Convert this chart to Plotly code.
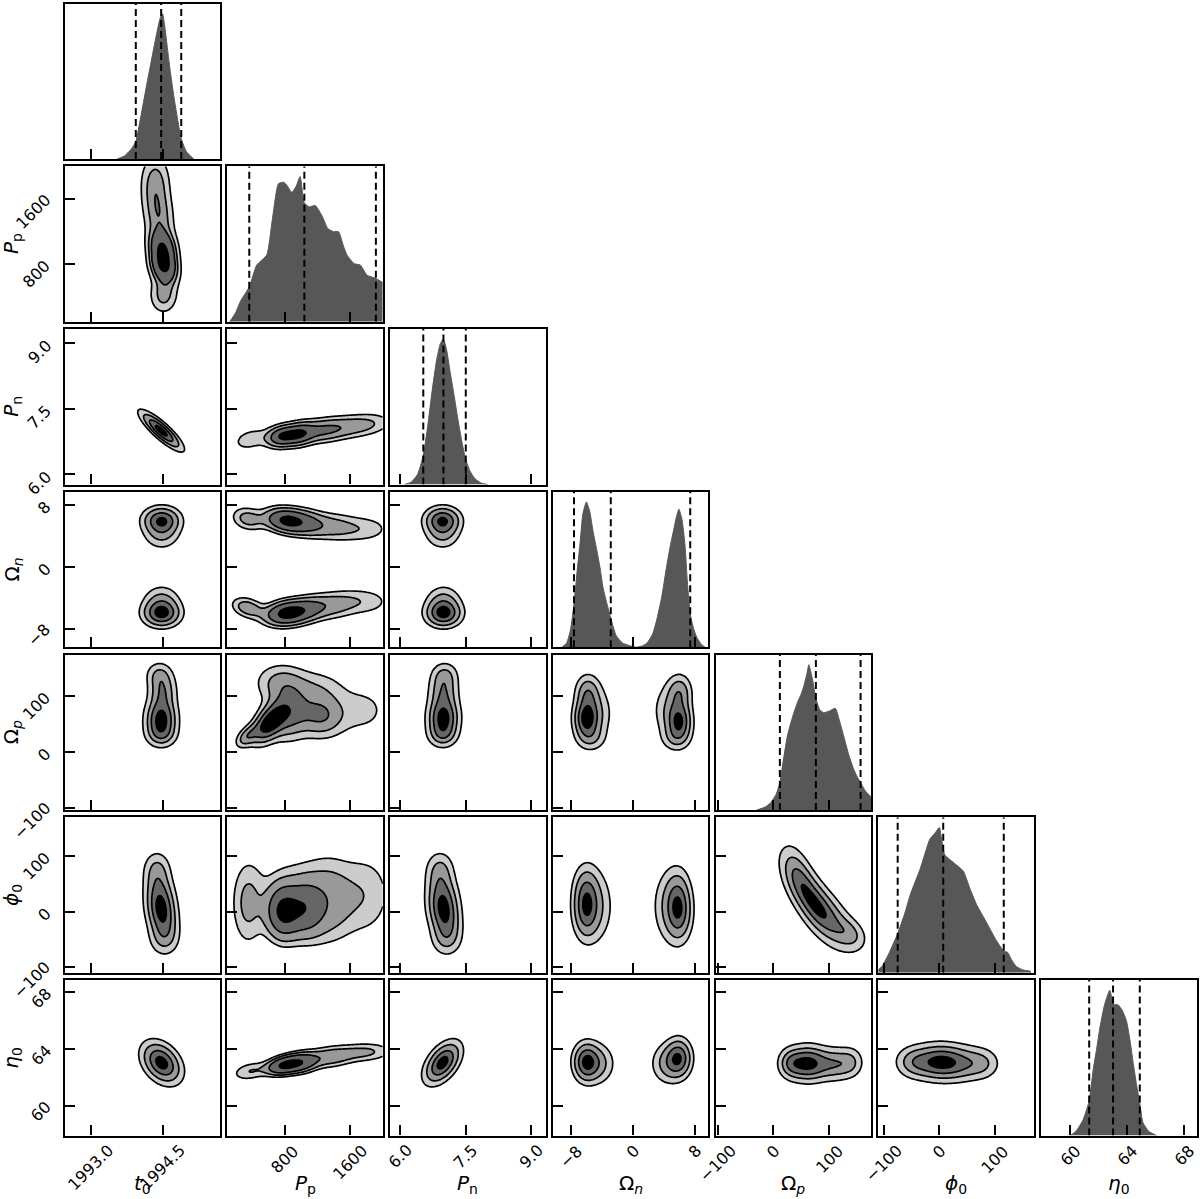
import numpy as np
import plotly.graph_objects as go

# ---------------- parameters / axes ----------------
PARAM_TITLES = ["<i>t</i><sub>0</sub>", "<i>P</i><sub>p</sub>", "<i>P</i><sub>n</sub>",
                "Ω<sub><i>n</i></sub>", "Ω<sub><i>p</i></sub>", "<i>ϕ</i><sub>0</sub>",
                "<i>η</i><sub>0</sub>"]
RANGES = [[1992.45, 1995.7], [100, 2000], [5.77, 9.32], [-10.4, 9.7],
          [-104, 175], [-110, 170], [57.93, 68.87]]
TICKS = [[1993.0, 1994.5], [800, 1600], [6.0, 7.5, 9.0], [-8, 0, 8],
         [-100, 0, 100], [-100, 0, 100], [60, 64, 68]]
TICK_TEXT = [["1993.0", "1994.5"], ["800", "1600"], ["6.0", "7.5", "9.0"],
             ["−8", "0", "8"], ["−100", "0", "100"], ["−100", "0", "100"],
             ["60", "64", "68"]]
QUANTILES = [[1993.94, 1994.47, 1994.89], [369, 1042, 1916], [6.53, 6.99, 7.50],
             [-7.65, -2.9, 7.37], [11.5, 76.1, 156.3], [-75, 7, 116],
             [61.32, 63.0, 64.88]]

# ---------------- 1D marginals (peak = 1) ----------------
MARG_X_T0 = [1993.55, 1993.7, 1993.85, 1993.94, 1994.05, 1994.15, 1994.25, 1994.35,
             1994.45, 1994.50, 1994.55, 1994.65, 1994.75, 1994.89, 1995.0, 1995.15]
MARG_H_T0 = [0, 0.02, 0.07, 0.12, 0.3, 0.48, 0.65, 0.82, 0.97, 1.0, 0.9, 0.63, 0.4,
             0.14, 0.05, 0]
MARG_X_PP = [130, 200, 260, 369, 460, 583, 650, 725, 790, 828, 889, 940, 991, 1040,
             1100, 1175, 1257, 1330, 1400, 1460, 1520, 1563, 1650, 1726, 1808, 1910, 2000]
MARG_H_PP = [0, 0.06, 0.14, 0.24, 0.39, 0.46, 0.70, 0.95, 0.96, 0.94, 0.89, 0.93, 1.0,
             0.82, 0.79, 0.80, 0.73, 0.64, 0.62, 0.62, 0.52, 0.46, 0.40, 0.39, 0.32,
             0.30, 0.27]
MARG_X_PN = [6.1, 6.25, 6.4, 6.53, 6.63, 6.73, 6.83, 6.92, 6.99, 7.06, 7.14, 7.24,
             7.33, 7.42, 7.5, 7.6, 7.71, 7.85, 8.0]
MARG_H_PN = [0, 0.015, 0.07, 0.2, 0.4, 0.64, 0.85, 0.97, 1.0, 0.93, 0.78, 0.6, 0.43,
             0.28, 0.17, 0.09, 0.04, 0.01, 0]
MARG_X_ON = [-9.2, -8.6, -8.1, -7.65, -7.2, -6.9, -6.5, -6.05, -5.6, -5.2, -4.75, -4.3,
             -3.9, -3.4, -2.9, -2.2, -1.4, -0.4, 0.4, 1.2, 1.8, 2.5, 3.0, 3.7, 4.3,
             4.8, 5.2, 5.6, 5.91, 6.3, 6.7, 7.0, 7.37, 7.8, 8.2, 8.8, 9.3]
MARG_H_ON = [0, 0.03, 0.12, 0.3, 0.55, 0.7, 0.92, 1.0, 0.93, 0.8, 0.68, 0.55, 0.41,
             0.3, 0.2, 0.08, 0.03, 0.01, 0, 0.01, 0.03, 0.09, 0.18, 0.35, 0.55, 0.70,
             0.80, 0.9, 0.95, 0.88, 0.70, 0.45, 0.23, 0.13, 0.07, 0.02, 0]
MARG_X_OP = [-30, -15, -5, 5, 11.5, 18, 25, 35, 43, 50, 55, 60, 63.5, 67, 70, 76, 83,
             90, 100, 111, 118, 126, 135, 144, 150, 156, 165, 175]
MARG_H_OP = [0, 0.02, 0.05, 0.11, 0.19, 0.35, 0.51, 0.65, 0.74, 0.80, 0.86, 0.94, 1.0,
             0.95, 0.9, 0.77, 0.69, 0.67, 0.68, 0.70, 0.62, 0.51, 0.38, 0.28, 0.23,
             0.19, 0.13, 0.09]
MARG_X_PHI = [-110, -103, -90, -75, -63, -52, -34, -17, -8, 0, 4, 10, 25, 43, 55, 67,
              80, 90, 103, 116, 123, 130, 138, 150, 165]
MARG_H_PHI = [0.02, 0.045, 0.14, 0.27, 0.40, 0.54, 0.72, 0.92, 0.96, 1.0, 0.92, 0.81,
              0.76, 0.70, 0.58, 0.47, 0.38, 0.31, 0.22, 0.15, 0.14, 0.09, 0.045, 0.02,
              0.01]
MARG_X_ETA = [60.0, 60.4, 60.9, 61.32, 61.6, 61.85, 62.07, 62.4, 62.77, 62.95, 63.1,
              63.35, 63.65, 63.94, 64.2, 64.4, 64.65, 64.88, 65.1, 65.5, 66.05]
MARG_H_ETA = [0, 0.03, 0.11, 0.24, 0.45, 0.60, 0.74, 0.9, 1.0, 0.93, 0.90, 0.90, 0.86,
              0.79, 0.65, 0.51, 0.35, 0.22, 0.09, 0.03, 0.0]
MARG_X = [MARG_X_T0, MARG_X_PP, MARG_X_PN, MARG_X_ON, MARG_X_OP, MARG_X_PHI, MARG_X_ETA]
MARG_H = [MARG_H_T0, MARG_H_PP, MARG_H_PN, MARG_H_ON, MARG_H_OP, MARG_H_PHI, MARG_H_ETA]

# ---------------- 2D posteriors: blobs (mx, my, sx, sy, rho, weight) ----------------
B_T0_PP = [(1994.53, 760, 0.19, 130, -0.2, 0.5), (1994.50, 1000, 0.19, 140, -0.2, 0.5),
           (1994.42, 1400, 0.22, 250, -0.2, 0.6),
           (1994.35, 1850, 0.21, 220, 0.0, 0.4), (1994.52, 420, 0.2, 150, 0.0, 0.3)]
B_T0_PN = [(1994.47, 7.0, 0.245, 0.245, -0.86, 1.0)]
B_T0_ON = [(1994.48, 6.1, 0.23, 1.0, 0, 0.6), (1994.48, 4.5, 0.23, 1.3, 0, 0.4),
           (1994.48, -6.1, 0.23, 1.0, 0, 0.65), (1994.48, -4.6, 0.23, 1.3, 0, 0.4)]
B_T0_OP = [(1994.47, 60, 0.21, 22, 0, 1.0), (1994.50, 110, 0.19, 22, 0, 0.55),
           (1994.47, 30, 0.21, 15, 0, 0.3), (1994.42, 140, 0.18, 15, 0, 0.2)]
B_T0_PHI = [(1994.48, -5, 0.2, 30, -0.25, 1.0), (1994.44, 40, 0.2, 30, -0.25, 0.6),
            (1994.40, 80, 0.18, 20, 0, 0.2), (1994.52, -50, 0.2, 20, 0, 0.25)]
B_T0_ETA = [(1994.48, 63.05, 0.24, 0.85, -0.35, 1.0)]
B_PP_PN = [(380, 6.80, 150, 0.18, 0.3, 0.15), (760, 6.87, 120, 0.16, 0.2, 0.35),
           (980, 6.92, 120, 0.17, 0.2, 0.33), (1250, 7.0, 180, 0.18, 0.2, 0.35),
           (1550, 7.08, 200, 0.18, 0.2, 0.25), (1850, 7.15, 200, 0.18, 0.2, 0.2)]
B_PP_ON = [(350, 6.2, 130, 1.0, -0.2, 0.1), (800, 6.0, 160, 1.0, -0.2, 0.3),
           (1050, 5.7, 170, 1.1, -0.2, 0.22), (1400, 5.2, 200, 1.2, -0.1, 0.16),
           (1800, 4.9, 220, 1.2, 0, 0.12),
           (350, -5.3, 130, 0.9, -0.3, 0.1), (800, -6.0, 160, 1.0, 0.2, 0.32),
           (1050, -5.6, 170, 1.1, 0.3, 0.23), (1400, -5.0, 200, 1.2, 0.2, 0.17),
           (1800, -4.5, 220, 1.2, 0, 0.12)]
B_PP_OP = [(340, 28, 90, 13, 0.5, 0.08), (600, 50, 130, 22, 0.5, 0.4),
           (850, 70, 170, 30, 0.1, 0.6), (1250, 65, 180, 25, 0, 0.45),
           (750, 125, 200, 22, 0, 0.3), (1200, 115, 220, 22, 0, 0.2),
           (1750, 75, 250, 32, 0, 0.3)]
B_PP_PHI = [(350, 15, 130, 50, 0, 0.2), (780, 0, 130, 30, 0, 0.4),
            (1050, 5, 150, 32, 0, 0.35), (1350, 20, 200, 48, 0, 0.35),
            (1800, 30, 220, 50, 0, 0.25), (900, 40, 300, 50, 0, 0.2)]
B_PP_ETA = [(380, 62.45, 150, 0.45, 0.3, 0.15), (780, 62.85, 130, 0.42, 0.3, 0.4),
            (1000, 63.05, 130, 0.45, 0.2, 0.35), (1350, 63.45, 200, 0.5, 0.2, 0.33),
            (1800, 63.8, 220, 0.45, 0.1, 0.25)]
B_PN_ON = [(6.97, 6.1, 0.24, 1.0, 0, 0.6), (6.97, 4.5, 0.24, 1.3, 0, 0.4),
           (6.99, -6.1, 0.24, 1.0, 0, 0.65), (6.99, -4.6, 0.24, 1.3, 0, 0.4)]
B_PN_OP = [(6.99, 62, 0.23, 22, 0, 1.0), (6.99, 110, 0.22, 22, 0, 0.55),
           (6.97, 30, 0.22, 15, 0, 0.3), (7.02, 140, 0.2, 15, 0, 0.2)]
B_PN_PHI = [(7.0, -5, 0.23, 30, -0.25, 1.0), (6.97, 40, 0.23, 30, -0.25, 0.6),
            (6.93, 80, 0.2, 20, 0, 0.2), (7.04, -50, 0.22, 20, 0, 0.25)]
B_PN_ETA = [(6.97, 63.05, 0.24, 0.85, 0.5, 1.0)]
B_ON_OP = [(-6.1, 60, 1.0, 22, 0, 0.6), (-5.9, 108, 1.0, 20, 0, 0.3),
           (-4.6, 70, 1.3, 30, 0, 0.35), (-5.5, 25, 1.2, 15, 0, 0.15),
           (6.0, 55, 1.0, 22, 0, 0.55), (6.0, 108, 1.0, 20, 0, 0.3),
           (4.5, 75, 1.3, 30, 0, 0.35), (5.5, 25, 1.2, 15, 0, 0.15)]
B_ON_PHI = [(-6.1, 0, 1.0, 30, 0, 0.6), (-6.1, 40, 1.0, 28, 0, 0.35),
            (-4.6, 10, 1.3, 40, 0, 0.4),
            (5.9, -5, 1.0, 30, 0, 0.55), (5.8, 30, 1.0, 30, 0, 0.35),
            (4.5, 10, 1.3, 40, 0, 0.4)]
B_ON_ETA = [(-6.1, 63.1, 1.0, 0.8, 0, 0.6), (-4.6, 63.0, 1.3, 0.85, 0, 0.4),
            (5.9, 63.4, 1.0, 0.8, 0, 0.55), (4.5, 63.0, 1.3, 0.85, 0, 0.4)]
B_OP_PHI = [(65, 25, 28, 42, -0.7, 1.0), (105, -15, 28, 35, -0.6, 0.6),
            (40, 75, 18, 32, -0.4, 0.25), (140, -40, 18, 18, -0.3, 0.15)]
B_OP_ETA = [(62, 63.0, 22, 0.8, 0, 1.0), (110, 62.95, 22, 0.75, 0, 0.55),
            (30, 63.0, 15, 0.7, 0, 0.3), (140, 63.1, 15, 0.7, 0, 0.2)]
B_PHI_ETA = [(-5, 63.1, 30, 0.8, 0, 1.0), (40, 63.0, 30, 0.8, 0, 0.6),
             (80, 63.0, 20, 0.7, 0, 0.2), (-50, 63.1, 20, 0.7, 0, 0.25)]

PAIRS = {(0, 1): B_T0_PP, (0, 2): B_T0_PN, (0, 3): B_T0_ON, (0, 4): B_T0_OP,
         (0, 5): B_T0_PHI, (0, 6): B_T0_ETA, (1, 2): B_PP_PN, (1, 3): B_PP_ON,
         (1, 4): B_PP_OP, (1, 5): B_PP_PHI, (1, 6): B_PP_ETA, (2, 3): B_PN_ON,
         (2, 4): B_PN_OP, (2, 5): B_PN_PHI, (2, 6): B_PN_ETA, (3, 4): B_ON_OP,
         (3, 5): B_ON_PHI, (3, 6): B_ON_ETA, (4, 5): B_OP_PHI, (4, 6): B_OP_ETA,
         (5, 6): B_PHI_ETA}

# ---------------- geometry / style ----------------
W, H = 1200, 1199
COL_LEFT0, ROW_TOP0, STEP, PANEL = 64.5, 3.5, 162.75, 155.5
FONT = "DejaVu Sans"
TICK_SIZE = 16
HIST_COLOR = "#575757"
DIAG_TOP = 1.07
CS = [[0, "#ffffff"], [0.125, "#ffffff"], [0.125, "#cccccc"], [0.375, "#cccccc"],
      [0.375, "#999999"], [0.625, "#999999"], [0.625, "#666666"], [0.875, "#666666"],
      [0.875, "#000000"], [1, "#000000"]]


def hpd_sigma(xg, yg, blobs):
    X, Y = np.meshgrid(xg, yg)
    p = np.zeros_like(X)
    for mx, my, sx, sy, rho, w in blobs:
        dx = (X - mx) / sx
        dy = (Y - my) / sy
        q = (dx * dx - 2 * rho * dx * dy + dy * dy) / (1 - rho * rho)
        p += w * np.exp(-0.5 * q) / (2 * np.pi * sx * sy * np.sqrt(1 - rho * rho))
    flat = p.ravel()
    order = np.argsort(flat)[::-1]
    cum = np.cumsum(flat[order])
    cum /= cum[-1]
    m = np.empty_like(cum)
    m[order] = cum
    m = np.clip(m, 0, 1 - 1e-12)
    s = np.sqrt(-2 * np.log1p(-m))
    return -np.minimum(s, 3.0).reshape(p.shape)


def panel_id(r, c):
    return r * (r + 1) // 2 + c + 1


fig = go.Figure()
layout = {}
for r in range(7):
    for c in range(r + 1):
        k = panel_id(r, c)
        xa, ya = f"x{k}", f"y{k}"
        left = COL_LEFT0 + STEP * c
        top = ROW_TOP0 + STEP * r
        xdom = [left / W, (left + PANEL) / W]
        ydom = [(H - top - PANEL) / H, (H - top) / H]
        common = dict(showline=True, mirror=True, linecolor="black", linewidth=2.3,
                      ticks="inside", ticklen=10, tickwidth=2, tickcolor="black",
                      showgrid=False, zeroline=False, automargin=False,
                      showticklabels=False)
        layout[f"xaxis{k}"] = dict(domain=xdom, anchor=ya, range=RANGES[c],
                                   tickvals=TICKS[c], **common)
        if r == c:
            ycfg = dict(common)
            ycfg.update(ticks="")
            layout[f"yaxis{k}"] = dict(domain=ydom, anchor=xa, range=[0, DIAG_TOP], **ycfg)
            fig.add_trace(go.Scatter(x=MARG_X[c], y=MARG_H[c], xaxis=xa, yaxis=ya,
                                     mode="lines", fill="tozeroy", fillcolor=HIST_COLOR,
                                     line=dict(color=HIST_COLOR, width=1, shape="spline",
                                               smoothing=0.5),
                                     hoverinfo="skip", showlegend=False))
            for qv in QUANTILES[c]:
                fig.add_trace(go.Scatter(x=[qv, qv], y=[0, DIAG_TOP], xaxis=xa, yaxis=ya,
                                         mode="lines",
                                         line=dict(color="black", width=2, dash="7px,4px"),
                                         hoverinfo="skip", showlegend=False))
        else:
            layout[f"yaxis{k}"] = dict(domain=ydom, anchor=xa, range=RANGES[r],
                                       tickvals=TICKS[r], **common)
            xg = np.linspace(RANGES[c][0], RANGES[c][1], 150)
            yg = np.linspace(RANGES[r][0], RANGES[r][1], 150)
            z = hpd_sigma(xg, yg, PAIRS[(c, r)])
            fig.add_trace(go.Contour(x=xg, y=yg, z=z, xaxis=xa, yaxis=ya,
                                     autocontour=False,
                                     contours=dict(start=-2.0, end=-0.5, size=0.5,
                                                   coloring="fill", showlines=True),
                                     line=dict(color="black", width=1.7, smoothing=1.0),
                                     colorscale=CS, zmin=-2.25, zmax=-0.25,
                                     showscale=False, hoverinfo="skip"))

annotations = []
tick_font = dict(family=FONT, size=TICK_SIZE, color="black")
# x tick labels (bottom row), rotated 45 deg, centred below each tick
bottom_px = ROW_TOP0 + STEP * 6 + PANEL
for c in range(7):
    k = panel_id(6, c)
    for tv, tt in zip(TICKS[c], TICK_TEXT[c]):
        annotations.append(dict(text=tt, x=tv, xref=f"x{k}", y=(H - bottom_px - 3) / H,
                                yref="paper", xanchor="center", yanchor="top",
                                textangle=-45, showarrow=False, font=tick_font))
# y tick labels (left column); longer labels sit a little lower, as in the reference
for r in range(1, 7):
    k = panel_id(r, 0)
    for tv, tt in zip(TICKS[r], TICK_TEXT[r]):
        annotations.append(dict(text=tt, x=(COL_LEFT0 - 7) / W, xref="paper", y=tv,
                                yref=f"y{k}", xanchor="right", yanchor="middle",
                                yshift=1 - 3.4 * len(tt),
                                textangle=-45, showarrow=False, font=tick_font))
# axis titles
for c in range(7):
    cx = (COL_LEFT0 + STEP * c + PANEL / 2) / W
    annotations.append(dict(text=PARAM_TITLES[c], x=cx, y=(H - 1184) / H, xref="paper",
                            yref="paper", showarrow=False, xanchor="center",
                            yanchor="middle", font=dict(family=FONT, size=20, color="black")))
for r in range(1, 7):
    cy = (H - (ROW_TOP0 + STEP * r + PANEL / 2)) / H
    annotations.append(dict(text=PARAM_TITLES[r], x=12 / W, y=cy, xref="paper",
                            yref="paper", showarrow=False, xanchor="center",
                            yanchor="middle", textangle=-90,
                            font=dict(family=FONT, size=20, color="black")))

fig.update_layout(template="none", width=W, height=H, margin=dict(l=0, r=0, t=0, b=0, pad=0),
                  paper_bgcolor="white", plot_bgcolor="white", showlegend=False,
                  annotations=annotations, font=dict(family=FONT), **layout)
fig.write_html("out.html", config={"displayModeBar": False},
               post_script="document.body.style.margin='0px';"
                           "document.body.style.overflow='hidden';")
